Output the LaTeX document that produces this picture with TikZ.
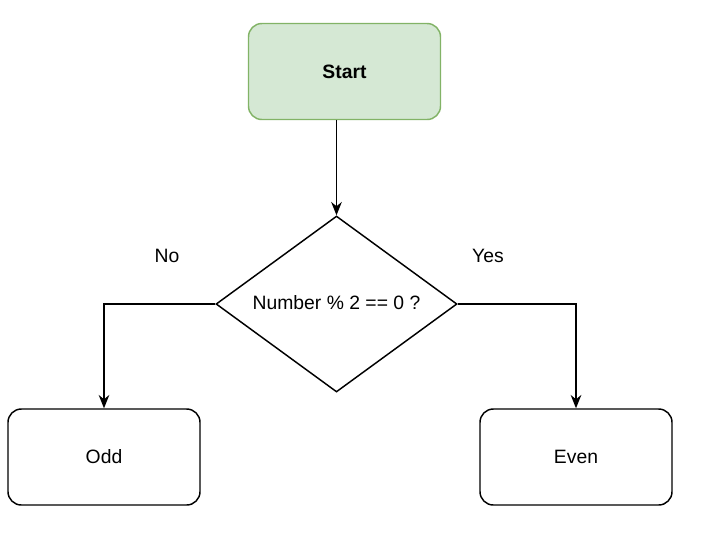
\documentclass[tikz,border=0pt]{standalone}
\usepackage{fontspec}
\setmainfont{Liberation Sans}
\usetikzlibrary{shapes.geometric,arrows.meta}
\definecolor{startfill}{HTML}{D5E8D4}
\definecolor{startline}{HTML}{82B366}
\begin{document}
\begin{tikzpicture}[x=0.75pt,y=-0.75pt,
  every node/.style={font=\fontsize{14.5}{17}\selectfont},
  box/.style={draw, line width=1.1pt, rounded corners=10pt, minimum width=144pt, minimum height=72pt, inner sep=0pt},
  conn/.style={line width=1.1pt, -{Stealth[length=10pt,width=8pt]}}]
\useasboundingbox (0,0) rectangle (702,551);
\node[box, fill=startfill, draw=startline, font=\fontsize{14.5}{17}\selectfont\bfseries] (start) at (344.5,71.5) {Start};
\node[diamond, draw, line width=1.1pt, minimum width=180.75pt, minimum height=132pt, inner sep=0pt] (dec) at (336.5,304) {};
\node (dectext) at (336.5,303) {Number \% 2 == 0 ?};
\node[box] (odd) at (104,457) {Odd};
\node[box] (even) at (576,457) {Even};
\node (no) at (167,256) {No};
\node (yes) at (488,256) {Yes};
\draw[conn] (start.south -| dec.north) -- (dec.north);
\draw[conn] (dec.west) -| (odd.north);
\draw[conn] (dec.east) -| (even.north);
\end{tikzpicture}
\end{document}
